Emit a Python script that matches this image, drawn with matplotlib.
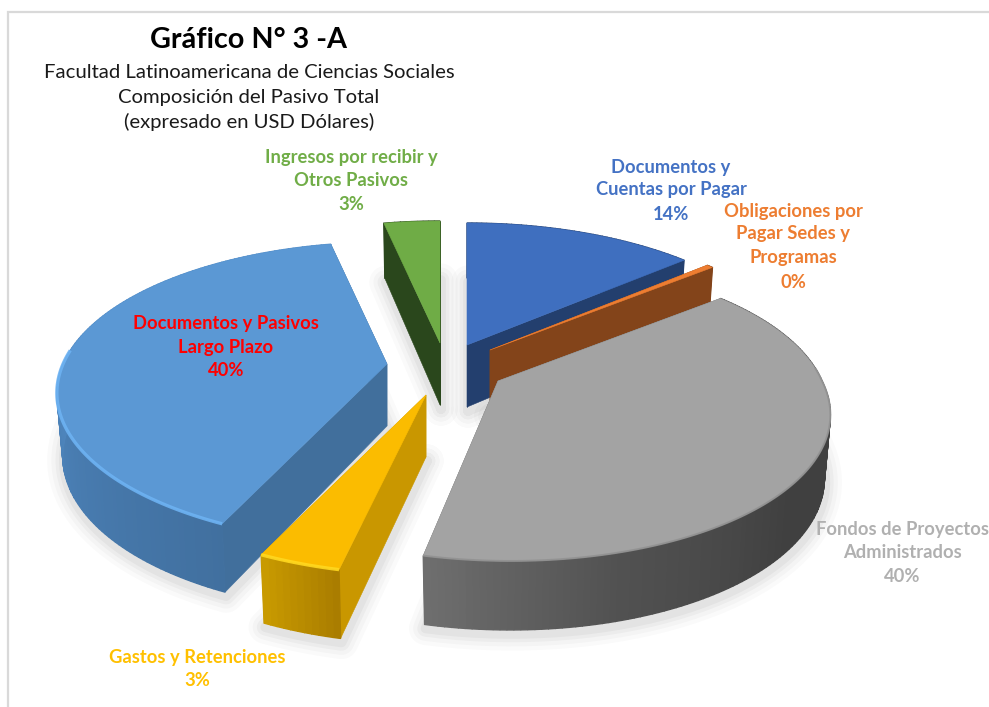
import numpy as np
import matplotlib
matplotlib.use("Agg")
import matplotlib.pyplot as plt
from matplotlib.colors import to_rgb
from matplotlib.patches import Polygon

# ---------- data ----------
categories = ["Documentos y\nCuentas por Pagar",
              "Obligaciones por\nPagar Sedes y\nProgramas",
              "Fondos de Proyectos\nAdministrados",
              "Gastos y Retenciones",
              "Documentos y Pasivos\nLargo Plazo",
              "Ingresos por recibir y\nOtros Pasivos"]
values = [13.6, 0.4, 39.5, 3.4, 39.8, 3.3]

# ---------- style / layout ----------
top_colors = ["#3F6FBF", "#ED7D31", "#A3A3A3", "#FBBC00", "#5B98D4", "#6FAC46"]
cut_colors = ["#233F6E", "#83441A", "#666666", "#C99700", "#416F9C", "#2A471C"]
label_colors = ["#4472C4", "#ED7D31", "#B0B0B0", "#FFC000", "#FF0000", "#70AD47"]
rim_colors = ["#3F6FBF", "#F09040", "#929292", "#FFD820", "#6DB2F2", "#6FAC46"]
rim_widths = [0, 0, 1.4, 2.4, 2.4, 0]
apex_x = [467, 490, 498, 426, 387, 440]
apex_y = [345, 350, 381, 395, 364, 343]
label_x = [671, 793, 902, 197, 226, 351]
label_y = [[167, 190, 214], [211, 234, 258, 282], [529, 553, 576], [657, 680],
           [324, 347, 371], [158, 181, 204]]
wall_stops = [
    ([0, 360], ["#233F6E", "#233F6E"]),
    ([0, 360], ["#83441A", "#83441A"]),
    ([60, 130, 165, 194.4], ["#404040", "#404040", "#525252", "#707070"]),
    ([192.6, 204.8], ["#A87C00", "#C99B00"]),
    ([204.8, 230, 290], ["#41709F", "#4678AB", "#528CC6"]),
    ([0, 360], ["#2A471C", "#2A471C"]),
]
draw_order = [5, 0, 1, 4, 3, 2]
A, B, K = 324.0, 145.4, 0.192     # perspective of the pie plane
VANISH_X = 445.0                  # near parts of slices right of it lean back toward it
THICK0, THICK1 = 62.0, 7.0        # wall height
BOTTOM_SCALE = 0.982

plt.rcParams["font.family"] = ["Lato", "DejaVu Sans"]
fig = plt.figure(figsize=(9.89, 7.07), dpi=100, facecolor="white")
ax = fig.add_axes([0, 0, 1, 1])
ax.set_xlim(0, 989)
ax.set_ylim(707, 0)
ax.axis("off")

# frame of the chart area
ax.plot([8, 8, 989], [707, 12, 12], color="#D9D9D9", lw=1.6, solid_joinstyle="miter",
        zorder=0.1)


def project(theta_deg, ax0, ay0, radius=1.0):
    t = np.radians(theta_deg)
    u, v = radius * np.sin(t), radius * np.cos(t)
    w = 1 + K * v
    skew = max(0.0, ax0 - VANISH_X) * np.maximum(0.0, 1 / w - 1)
    return ax0 + A * u / w + skew, ay0 - B * v / w, v


def project_bottom(theta_deg, ax0, ay0, radius=1.0):
    x, y, v = project(theta_deg, ax0, ay0, radius)
    return ax0 + (x - ax0) * BOTTOM_SCALE, y + THICK0 - THICK1 * v


def wall_colour(stops, theta):
    pos, cols = stops
    rgb = np.array([to_rgb(c) for c in cols])
    return tuple(np.interp(theta, pos, rgb[:, i]) for i in range(3))


edges = np.concatenate([[0], np.cumsum(values)]) / np.sum(values) * 360.0

# soft shadows lie under every slice
for i in draw_order:
    thetas = np.linspace(edges[i], edges[i + 1], 60)
    bx, by = project_bottom(thetas, apex_x[i], apex_y[i])
    cbx, cby = project_bottom(0.0, apex_x[i], apex_y[i], radius=0.0)
    sx = np.concatenate([[cbx], bx, [cbx]])
    sy = np.concatenate([[cby], by, [cby]])
    for lw, alpha in zip([24, 18, 12, 7], [0.02, 0.025, 0.03, 0.035]):
        ax.plot(sx + 1, sy + 4, color="black", lw=lw, alpha=alpha, zorder=0.5,
                solid_joinstyle="round", solid_capstyle="round")

for rank, i in enumerate(draw_order):
    z = 1 + rank
    t0, t1 = edges[i], edges[i + 1]
    px, py = apex_x[i], apex_y[i]
    thetas = np.linspace(t0, t1, max(int((t1 - t0)), 4))

    tx, ty, _ = project(thetas, px, py)
    bx, by = project_bottom(thetas, px, py)
    cbx, cby = project_bottom(0.0, px, py, radius=0.0)

    # the two radial cut walls
    for tc in (t0, t1):
        ex, ey, _ = project(tc, px, py)
        fx, fy = project_bottom(tc, px, py)
        ax.add_patch(Polygon([(px, py), (ex, ey), (fx, fy), (cbx, cby)], closed=True,
                             facecolor=cut_colors[i], edgecolor=cut_colors[i], lw=0.4,
                             zorder=z))

    # the outer wall with its shading
    for j in range(len(thetas) - 1):
        mid = 0.5 * (thetas[j] + thetas[j + 1])
        col = wall_colour(wall_stops[i], mid)
        ax.add_patch(Polygon([(tx[j], ty[j]), (tx[j + 1], ty[j + 1]),
                              (bx[j + 1], by[j + 1]), (bx[j], by[j])], closed=True,
                             facecolor=col, edgecolor=col, lw=1.0, zorder=z + 0.1))

    # the top face and the bevel along its rim
    ax.add_patch(Polygon(np.column_stack([np.r_[px, tx], np.r_[py, ty]]), closed=True,
                         facecolor=top_colors[i], edgecolor=top_colors[i], lw=0.4,
                         zorder=z + 0.2))
    near = np.cos(np.radians(thetas)) < 0.1
    if near.any() and rim_widths[i] > 0:
        ax.plot(tx[near], ty[near], color=rim_colors[i], lw=rim_widths[i],
                solid_capstyle="butt", alpha=0.9, zorder=z + 0.3)

# ---------- texts ----------
ax.text(249, 40, "Gráfico N° 3 -A", fontsize=20.7, fontweight="bold", color="black",
        ha="center", va="center", zorder=20)
for txt, y in zip(["Facultad Latinoamericana de Ciencias Sociales",
                   "Composición del Pasivo Total",
                   "(expresado en USD Dólares)"], [72, 97, 122]):
    ax.text(249, y, txt, fontsize=14.55, color="#1A1A1A", ha="center", va="center",
            zorder=20)

total = sum(values)
for name, val, col, x, ys in zip(categories, values, label_colors, label_x, label_y):
    lines = name.split("\n") + [f"{val / total * 100:.0f}%"]
    for line, y in zip(lines, ys):
        ax.text(x, y, line, fontsize=13.2, fontweight="bold", color=col,
                ha="center", va="center", zorder=20)

fig.savefig("out.png", dpi=100, facecolor="white")
